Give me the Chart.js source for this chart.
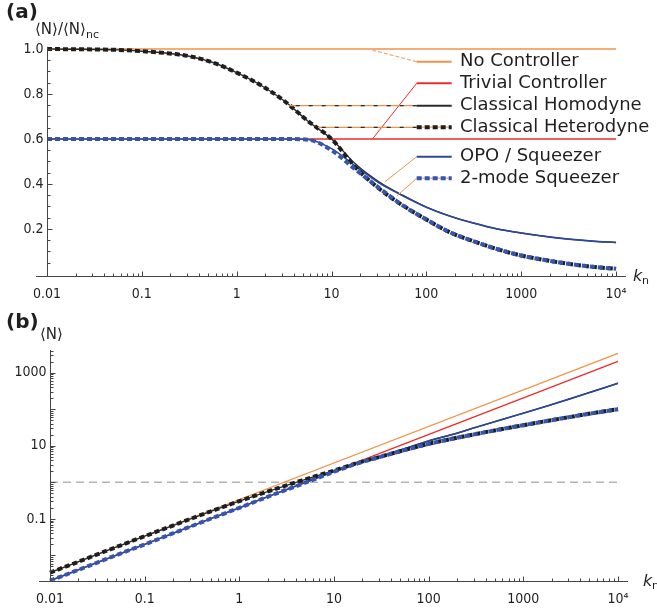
<!DOCTYPE html>
<html>
<head>
<meta charset="utf-8">
<script src="https://cdn.jsdelivr.net/npm/chart.js@4.4.1/dist/chart.umd.min.js"></script>
<style>
  html, body { margin: 0; padding: 0; background: #fff; }
  #wrap { position: relative; width: 657px; height: 612px; overflow: hidden; }
  canvas { position: absolute; left: 0; }
  #chartA { top: 0; }
  #chartB { top: 312px; }
</style>
</head>
<body>
<div id="wrap">
  <canvas id="chartA" width="657" height="312" style="width:657px;height:312px"></canvas>
  <canvas id="chartB" width="657" height="300" style="width:657px;height:300px"></canvas>
</div>
<script>
// ---------- data ----------
const kValues = [0.01, 0.0178, 0.0316, 0.0562, 0.1, 0.178, 0.316, 0.562, 1, 1.78, 3.16, 5.62,
                 10, 17.8, 31.6, 56.2, 100, 178, 316, 562, 1000, 1780, 3160, 5620, 10000];
const kEnds = [0.01, 10000];

// (a)  <N>/<N>nc
const ratioNoController = [1, 1];
const ratioTrivial = [0.6, 0.6];
const ratioHomodyne = [1.0, 0.999, 0.998, 0.996, 0.99, 0.982, 0.968, 0.94, 0.895, 0.84, 0.77, 0.68,
                       0.6, 0.49, 0.41, 0.35, 0.297, 0.257, 0.226, 0.2, 0.182, 0.167, 0.155, 0.146, 0.14];
const ratioHeterodyne = [1.0, 0.999, 0.998, 0.996, 0.99, 0.982, 0.968, 0.94, 0.895, 0.84, 0.77, 0.68,
                         0.6, 0.475, 0.38, 0.305, 0.242, 0.185, 0.145, 0.11, 0.082, 0.062, 0.045, 0.032, 0.023];
const ratioOPO = [0.6, 0.6, 0.6, 0.6, 0.6, 0.6, 0.6, 0.6, 0.6, 0.6, 0.6, 0.598,
                  0.557, 0.48, 0.405, 0.348, 0.297, 0.257, 0.226, 0.2, 0.182, 0.167, 0.155, 0.146, 0.14];
const ratioTwoMode = [0.6, 0.6, 0.6, 0.6, 0.6, 0.6, 0.6, 0.6, 0.6, 0.6, 0.6, 0.597,
                      0.55, 0.465, 0.383, 0.305, 0.242, 0.185, 0.145, 0.11, 0.082, 0.062, 0.045, 0.032, 0.023];

// (b)  <N>
const nNoController = [0.0034, 3390];
const nTrivial = [0.00204, 2030];
const nReference = [1, 1];
const nHomodyne = [0.0034, 0.006, 0.0107, 0.019, 0.0337, 0.059, 0.104, 0.18, 0.305, 0.51, 0.83, 1.33,
                   2.1, 3.5, 5.25, 8.5, 13.6, 20.4, 32, 50, 78, 122, 195, 316, 513];
const nHeterodyne = [0.0034, 0.006, 0.0107, 0.019, 0.0337, 0.059, 0.104, 0.18, 0.305, 0.51, 0.83, 1.33,
                     2.1, 3.4, 5.1, 7.7, 11.3, 15.6, 21, 27.9, 36.6, 47.7, 61.8, 79.4, 100];
const nOPO = [0.00204, 0.0036, 0.0064, 0.0114, 0.02, 0.036, 0.064, 0.114, 0.2, 0.36, 0.63, 1.1,
              1.97, 3.35, 5.15, 8.3, 13.6, 20.4, 32, 50, 78, 122, 195, 316, 513];
const nTwoMode = [0.00204, 0.0036, 0.0064, 0.0114, 0.02, 0.036, 0.064, 0.114, 0.2, 0.36, 0.63, 1.1,
                  1.95, 3.3, 5.05, 7.7, 11.3, 15.6, 21, 27.9, 36.6, 47.7, 61.8, 79.4, 100];

const seriesNames = ['No Controller', 'Trivial Controller', 'Classical Homodyne',
                     'Classical Heterodyne', 'OPO / Squeezer', '2-mode Squeezer'];

// ticks
const xTickValues = [0.01, 0.1, 1, 10, 100, 1000, 10000];
const xTickLabels = ['0.01', '0.1', '1', '10', '100', '1000', '10\u2074'];
const yTickValuesA = [0.2, 0.4, 0.6, 0.8, 1.0];
const yTickLabelsA = ['0.2', '0.4', '0.6', '0.8', '1.0'];
const yTickValuesB = [0.01, 0.1, 1, 10, 100, 1000];
const yTickLabelsB = ['', '0.1', '', '10', '', '1000'];

// ---------- styling ----------
const TICK_FONT = '14px "DejaVu Sans Condensed", "DejaVu Sans", sans-serif';
const TEXT = '#1f1f1f';
const AXIS = '#444';
const styles = [
  { color: '#f0924a', width: 1.3 },                 // no controller
  { color: '#ec2b2b', width: 1.3 },                 // trivial
  { color: '#2b2b2b', width: 1.4 },                 // homodyne
  { color: '#1e1e1e', width: 4, dash: [5, 3] },     // heterodyne
  { color: '#2d4898', width: 1.6 },                 // OPO
  { color: '#3556b0', width: 4, dash: [5, 3] }      // 2-mode
];

function series(name, xs, ys, st) {
  return {
    label: name,
    data: xs.map((x, i) => ({ x: x, y: ys[i] })),
    borderColor: st.color,
    borderWidth: st.width,
    borderDash: st.dash || [],
    borderCapStyle: 'butt',
    pointRadius: 0,
    fill: false,
    cubicInterpolationMode: 'monotone'
  };
}

function seg(ctx, x1, y1, x2, y2) {
  ctx.beginPath(); ctx.moveTo(x1, y1); ctx.lineTo(x2, y2); ctx.stroke();
}

function logMinor(majors, lo, hi) {
  let out = [];
  majors.forEach(v => { for (let m = 2; m <= 9; m++) { let t = v * m; if (t > lo && t < hi) out.push(t); } });
  return out;
}

// Mathematica-like axes: inward ticks, y axis crossing at x = 0.01
const axesPlugin = {
  id: 'mmaAxes',
  afterDraw(chart, args, o) {
    const ctx = chart.ctx, xs = chart.scales.x, ys = chart.scales.y, a = chart.chartArea;
    const ax = Math.round(xs.getPixelForValue(o.yAxisAtX)) + 0.5;
    const ay = Math.round(a.bottom) + 0.5;
    ctx.save();
    ctx.strokeStyle = AXIS; ctx.lineWidth = 1;
    seg(ctx, a.left, ay, a.right, ay);
    seg(ctx, ax, a.top, ax, ay);

    // x ticks
    xTickValues.forEach(v => { let p = Math.round(xs.getPixelForValue(v)) + 0.5; seg(ctx, p, ay, p, ay - 5); });
    logMinor(xTickValues, xs.min, xs.max).forEach(v => {
      let p = Math.round(xs.getPixelForValue(v)) + 0.5; seg(ctx, p, ay, p, ay - 3);
    });
    // y ticks
    o.yTicks.forEach(v => { let p = Math.round(ys.getPixelForValue(v)) + 0.5; seg(ctx, ax, p, ax + 5, p); });
    o.yMinor.forEach(v => { let p = Math.round(ys.getPixelForValue(v)) + 0.5; seg(ctx, ax, p, ax + 3, p); });

    ctx.fillStyle = TEXT;
    ctx.font = TICK_FONT;
    ctx.textAlign = 'center'; ctx.textBaseline = 'middle';
    xTickValues.forEach((v, i) => ctx.fillText(xTickLabels[i], xs.getPixelForValue(v), ay + 18));
    ctx.textAlign = 'right';
    o.yTicks.forEach((v, i) => { if (o.yLabels[i]) ctx.fillText(o.yLabels[i], ax - 4, ys.getPixelForValue(v)); });

    // axis titles
    ctx.textAlign = 'left';
    ctx.font = 'italic 16px "DejaVu Sans", sans-serif';
    ctx.fillText('k', o.kx, ay);
    ctx.font = '11px "DejaVu Sans", sans-serif';
    ctx.fillText('n', o.kx + 9, ay + 5);

    ctx.font = 'bold 20px "DejaVu Sans", sans-serif';
    ctx.fillText(o.panel, 6, o.panelY);
    ctx.font = '15px "DejaVu Sans", sans-serif';
    ctx.fillText(o.yTitle, o.yTitleX, o.yTitleY);
    if (o.yTitleSub) {
      let w = ctx.measureText(o.yTitle).width;
      ctx.font = '11px "DejaVu Sans", sans-serif';
      ctx.fillText(o.yTitleSub, o.yTitleX + w, o.yTitleY + 5);
    }
    ctx.restore();
  }
};

// legend with leader lines pointing to the curves (panel a)
const legendRowsY = [61.7, 83.3, 105.7, 127.3, 156.7, 178.3];
const legendAnchors = [
  { k: 27, v: 0.995 }, { k: 27, v: 0.6 }, { k: 3.6, v: 0.748 },
  { k: 7.2, v: 0.652 }, { k: 36.6, v: 0.41 }, { k: 48.8, v: 0.347 }
];
const calloutLegend = {
  id: 'calloutLegend',
  afterDraw(chart) {
    const ctx = chart.ctx, xs = chart.scales.x, ys = chart.scales.y;
    const sx1 = 416.7, sx2 = 451.7, tx = 460;
    ctx.save();
    seriesNames.forEach((name, i) => {
      const y = legendRowsY[i];
      const axp = xs.getPixelForValue(legendAnchors[i].k);
      const ayp = ys.getPixelForValue(legendAnchors[i].v);
      // leader
      ctx.setLineDash([]);
      if (i === 0) {
        ctx.strokeStyle = '#f4ad7a'; ctx.lineWidth = 1.2; ctx.setLineDash([4, 2]);
        seg(ctx, sx1, y, axp, ayp);
      } else if (i === 1) {
        ctx.strokeStyle = '#ec2b2b'; ctx.lineWidth = 1;
        seg(ctx, sx1, y, axp, ayp);
      } else if (i === 2 || i === 3) {
        ctx.strokeStyle = '#f0924a'; ctx.lineWidth = 1.3;
        seg(ctx, sx1, y, axp, ayp);
        ctx.strokeStyle = '#2b2b2b'; ctx.setLineDash([4, 9]);
        seg(ctx, sx1, y, axp, ayp);
      } else {
        ctx.strokeStyle = '#f0924a'; ctx.lineWidth = 1;
        seg(ctx, sx1, y, axp, ayp);
      }
      // sample
      const st = styles[i];
      ctx.setLineDash([]);
      if (st.dash) {
        ctx.strokeStyle = '#f6b88c'; ctx.lineWidth = 1.5;
        seg(ctx, sx1, y, sx2, y);
        ctx.setLineDash(st.dash);
        ctx.lineWidth = 4;
      } else {
        ctx.lineWidth = 2;
      }
      ctx.strokeStyle = st.color;
      seg(ctx, sx1, y, sx2, y);
      ctx.setLineDash([]);
      ctx.fillStyle = TEXT;
      ctx.font = '18px "DejaVu Sans", sans-serif';
      ctx.textAlign = 'left'; ctx.textBaseline = 'middle';
      ctx.fillText(name, tx, y);
    });
    ctx.restore();
  }
};

Chart.defaults.animation = false;
Chart.defaults.events = [];

// ---------- panel (a) ----------
let yMinorA = [];
for (let i = 1; i < 20; i++) { if (i % 4 !== 0) yMinorA.push(i * 0.05); }

new Chart(document.getElementById('chartA'), {
  type: 'line',
  data: {
    datasets: [
      series(seriesNames[5], kValues, ratioTwoMode, styles[5]),
      series(seriesNames[3], kValues, ratioHeterodyne, styles[3]),
      series(seriesNames[4], kValues, ratioOPO, styles[4]),
      series(seriesNames[2], kValues, ratioHomodyne, styles[2]),
      series(seriesNames[1], kEnds, ratioTrivial, styles[1]),
      series(seriesNames[0], kEnds, ratioNoController, styles[0])
    ]
  },
  options: {
    responsive: false,
    layout: { padding: { left: 36, right: 31, top: 46.75, bottom: 36 } },
    scales: {
      x: { type: 'logarithmic', min: Math.pow(10, -2.116), max: Math.pow(10, 4.105), display: false, bounds: 'data' },
      y: { type: 'linear', min: -0.009, max: 1.01, display: false }
    },
    plugins: {
      legend: { display: false },
      tooltip: { enabled: false },
      mmaAxes: {
        yAxisAtX: 0.01, yTicks: yTickValuesA, yLabels: yTickLabelsA, yMinor: yMinorA,
        kx: 633, panel: '(a)', panelY: 13,
        yTitle: '\u27E8N\u27E9/\u27E8N\u27E9', yTitleSub: 'nc', yTitleX: 35, yTitleY: 30
      }
    }
  },
  plugins: [axesPlugin, calloutLegend]
});

// ---------- panel (b) ----------
new Chart(document.getElementById('chartB'), {
  type: 'line',
  data: {
    datasets: [
      series(seriesNames[5], kValues, nTwoMode, styles[5]),
      series(seriesNames[3], kValues, nHeterodyne, styles[3]),
      series(seriesNames[4], kValues, nOPO, styles[4]),
      series(seriesNames[2], kValues, nHomodyne, styles[2]),
      series(seriesNames[1], kEnds, nTrivial, styles[1]),
      series(seriesNames[0], kEnds, nNoController, styles[0]),
      series('reference', kEnds, nReference, { color: '#b4b4b4', width: 1.5, dash: [8, 5] })
    ]
  },
  options: {
    responsive: false,
    layout: { padding: { left: 39, right: 29, top: 38, bottom: 31.3 } },
    scales: {
      x: { type: 'logarithmic', min: Math.pow(10, -2.116), max: Math.pow(10, 4.106), display: false, bounds: 'data' },
      y: { type: 'logarithmic', min: Math.pow(10, -2.69), max: Math.pow(10, 3.62), display: false, bounds: 'data' }
    },
    plugins: {
      legend: { display: false },
      tooltip: { enabled: false },
      mmaAxes: {
        yAxisAtX: 0.01, yTicks: yTickValuesB, yLabels: yTickLabelsB,
        yMinor: logMinor([0.001, 0.01, 0.1, 1, 10, 100, 1000], Math.pow(10, -2.69), Math.pow(10, 3.62)),
        kx: 643, panel: '(b)', panelY: 11,
        yTitle: '\u27E8N\u27E9', yTitleSub: '', yTitleX: 40, yTitleY: 23
      }
    }
  },
  plugins: [axesPlugin]
});
</script>
</body>
</html>
